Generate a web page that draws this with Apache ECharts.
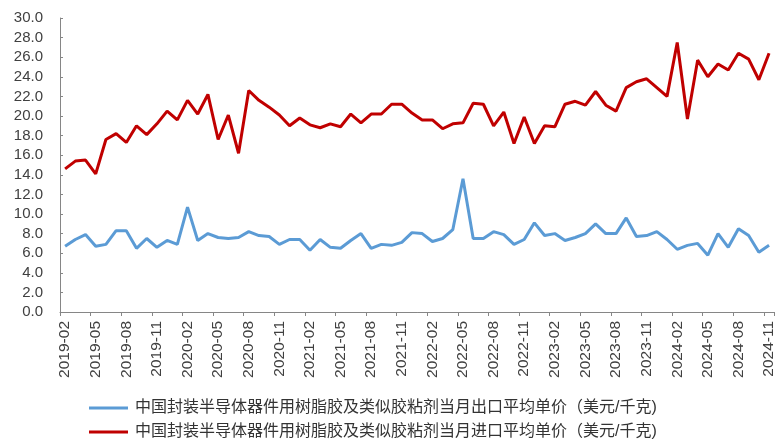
<!DOCTYPE html>
<html>
<head>
<meta charset="utf-8">
<script src="https://cdn.jsdelivr.net/npm/echarts@6/dist/echarts.min.js"></script>
<style>
html,body{margin:0;padding:0;background:#fff;}
#chart{width:777px;height:439px;}
</style>
</head>
<body>
<div id="chart"></div>
<script>
var categories = [
'2019-02','2019-03','2019-04','2019-05','2019-06','2019-07','2019-08','2019-09','2019-10','2019-11','2019-12',
'2020-01','2020-02','2020-03','2020-04','2020-05','2020-06','2020-07','2020-08','2020-09','2020-10','2020-11','2020-12',
'2021-01','2021-02','2021-03','2021-04','2021-05','2021-06','2021-07','2021-08','2021-09','2021-10','2021-11','2021-12',
'2022-01','2022-02','2022-03','2022-04','2022-05','2022-06','2022-07','2022-08','2022-09','2022-10','2022-11','2022-12',
'2023-01','2023-02','2023-03','2023-04','2023-05','2023-06','2023-07','2023-08','2023-09','2023-10','2023-11','2023-12',
'2024-01','2024-02','2024-03','2024-04','2024-05','2024-06','2024-07','2024-08','2024-09','2024-10','2024-11'
];
var exportName = '中国封装半导体器件用树脂胶及类似胶粘剂当月出口平均单价（美元/千克)';
var importName = '中国封装半导体器件用树脂胶及类似胶粘剂当月进口平均单价（美元/千克)';
var exportPrice = [
6.7,7.4,7.9,6.7,6.9,8.3,8.3,6.5,7.5,6.6,7.3,
6.9,10.7,7.3,8.0,7.6,7.5,7.6,8.2,7.8,7.7,6.9,7.4,
7.4,6.3,7.4,6.6,6.5,7.3,8.0,6.5,6.9,6.8,7.1,8.1,
8.0,7.2,7.5,8.4,13.6,7.5,7.5,8.2,7.9,6.9,7.4,9.1,
7.8,8.0,7.3,7.6,8.0,9.0,8.0,8.0,9.6,7.7,7.8,8.2,
7.4,6.4,6.8,7.0,5.8,8.0,6.6,8.5,7.8,6.1,6.8
];
var importPrice = [
14.6,15.4,15.5,14.1,17.6,18.2,17.3,19.0,18.1,19.2,20.5,
19.6,21.6,20.2,22.2,17.6,20.1,16.2,22.6,21.6,20.9,20.1,19.0,
19.8,19.1,18.8,19.2,18.9,20.2,19.3,20.2,20.2,21.2,21.2,20.3,
19.6,19.6,18.7,19.2,19.3,21.3,21.2,19.0,20.4,17.2,19.9,17.2,
19.0,18.9,21.2,21.5,21.1,22.5,21.1,20.5,22.9,23.5,23.8,22.9,
22.0,27.5,19.7,25.7,24.0,25.3,24.7,26.4,25.8,23.7,26.4
];
var yTicks = {min: 0, max: 30, step: 2};

var legendText = {fontSize: 16, color: '#333333', lineHeight: 18,
  fontFamily: 'Liberation Sans, "Noto Sans CJK SC", sans-serif', padding: [0,0,0,2]};
function makeLegend(name, top) {
  return {orient: 'horizontal', left: 89, top: top, padding: 0, itemWidth: 39, itemHeight: 3,
    icon: 'rect', textStyle: legendText, data: [name]};
}

var chart = echarts.init(document.getElementById('chart'));
chart.setOption({
  animation: false,
  backgroundColor: '#ffffff',
  grid: {left: 60, top: 18, width: 721, height: 294, containLabel: false},
  legend: [makeLegend(exportName, 399), makeLegend(importName, 423)],
  xAxis: {
    type: 'category',
    data: categories,
    boundaryGap: true,
    axisLine: {show: true, lineStyle: {color: '#868686', width: 1}},
    axisTick: {show: true, interval: 2, alignWithLabel: false, length: 4, lineStyle: {color: '#868686'}},
    axisLabel: {interval: 2, rotate: 90, margin: 9, fontSize: 15.5, color: '#404040',
      fontFamily: 'Liberation Sans, Arial, sans-serif'},
    splitLine: {show: false}
  },
  yAxis: {
    type: 'value',
    min: yTicks.min,
    max: yTicks.max,
    interval: yTicks.step,
    axisLine: {show: true, lineStyle: {color: '#868686', width: 1}},
    axisTick: {show: true, inside: true, length: 3, lineStyle: {color: '#868686'}},
    axisLabel: {margin: 17, fontSize: 15, color: '#404040',
      fontFamily: 'Liberation Sans, Arial, sans-serif',
      formatter: function (v) { return v.toFixed(1); }},
    splitLine: {show: false}
  },
  series: [
    {name: exportName, type: 'line', data: exportPrice, symbol: 'none', smooth: false,
      lineStyle: {color: '#5B9BD5', width: 3}, itemStyle: {color: '#5B9BD5'}},
    {name: importName, type: 'line', data: importPrice, symbol: 'none', smooth: false,
      lineStyle: {color: '#C00000', width: 3}, itemStyle: {color: '#C00000'}}
  ]
});
</script>
</body>
</html>
